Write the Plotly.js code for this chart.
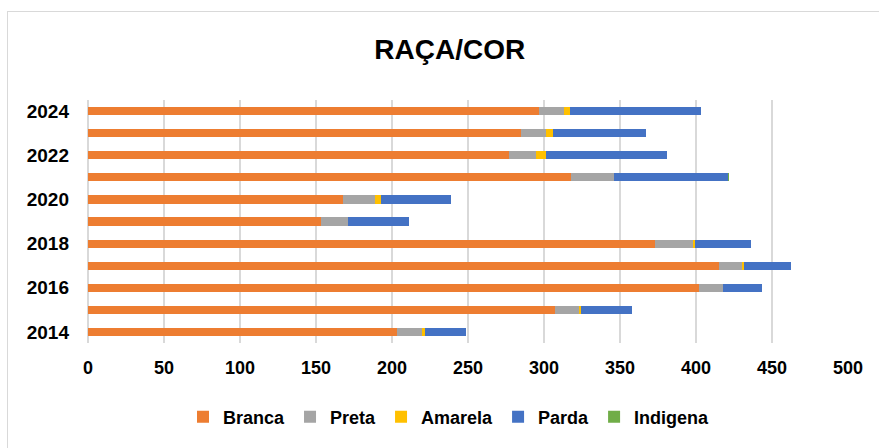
<!DOCTYPE html>
<html>
<head>
<meta charset="utf-8">
<script src="https://cdn.plot.ly/plotly-3.0.1.min.js"></script>
<style>
  html, body { margin: 0; padding: 0; background: #fff; overflow: hidden; }
  #frame { position: absolute; left: 7px; top: 11px; width: 900px; height: 460px; border: 1px solid #d9d9d9; box-sizing: border-box; pointer-events: none; }
  #chart { position: absolute; left: 0; top: 0; width: 879px; height: 448px; }
</style>
</head>
<body>
<div id="chart"></div>
<div id="frame"></div>
<script>
const years = [2014, 2015, 2016, 2017, 2018, 2019, 2020, 2021, 2022, 2023, 2024];
const branca   = [203, 307, 402, 415, 373, 153, 168, 318, 277, 285, 297];
const preta    = [17, 16, 16, 15, 25, 18, 21, 28, 18, 16, 16];
const amarela  = [2, 1.5, 0, 1.5, 1.5, 0, 4, 0, 6, 5, 4];
const parda    = [27, 33.5, 25.5, 31, 37, 40, 46, 75, 80, 61, 86];
const indigena = [0, 0, 0, 0, 0, 0, 0, 1, 0, 0, 0];
const yTickVals = [2014, 2016, 2018, 2020, 2022, 2024];
const xTickVals = [0, 50, 100, 150, 200, 250, 300, 350, 400, 450, 500];

const seriesNames = ['Branca', 'Preta', 'Amarela', 'Parda', 'Indigena'];
const seriesData = [branca, preta, amarela, parda, indigena];
const seriesColors = ['#ED7D31', '#A5A5A5', '#FFC000', '#4472C4', '#70AD47'];

const traces = seriesNames.map((name, i) => ({
  type: 'bar',
  orientation: 'h',
  name: '<b>' + name + '</b>',
  y: years,
  x: seriesData[i],
  marker: { color: seriesColors[i], line: { width: 0 } },
  hoverinfo: 'x+name'
}));

const font = 'Liberation Sans, Arial, sans-serif';
const layout = {
  width: 879,
  height: 448,
  margin: { l: 88, r: 31, t: 100, b: 105, pad: 0 },
  paper_bgcolor: '#ffffff',
  plot_bgcolor: '#ffffff',
  barmode: 'stack',
  bargap: 0.63,
  font: { family: font, size: 18, color: '#000000' },
  title: {
    text: '<b>RAÇA/COR</b>',
    font: { family: font, size: 28, color: '#000000' },
    x: 0.476, xref: 'paper', xanchor: 'center',
    y: 0.89, yref: 'container', yanchor: 'middle'
  },
  xaxis: {
    range: [0, 500],
    tickvals: xTickVals,
    ticktext: xTickVals.map(v => '<b>' + v + '</b>'),
    showgrid: true,
    gridcolor: '#d9d9d9',
    gridwidth: 1.5,
    zeroline: true,
    zerolinecolor: '#d9d9d9',
    zerolinewidth: 1.5,
    showline: false,
    ticks: '',
    ticklabelstandoff: 12,
    tickfont: { family: font, size: 18, color: '#000' },
    fixedrange: true
  },
  yaxis: {
    range: [2013.5, 2024.5],
    tickvals: yTickVals,
    ticktext: yTickVals.map(v => '<b>' + v + '</b>'),
    showgrid: false,
    zeroline: false,
    showline: false,
    ticks: '',
    ticklabelstandoff: 18,
    tickfont: { family: font, size: 19, color: '#000' },
    fixedrange: true
  },
  showlegend: true,
  legend: {
    orientation: 'h',
    x: 0.475, xanchor: 'center',
    y: -0.305, yanchor: 'middle',
    font: { family: font, size: 18, color: '#000' },
    traceorder: 'normal',
    itemwidth: 30,
    bgcolor: 'rgba(0,0,0,0)'
  }
};

Plotly.newPlot('chart', traces, layout, { displayModeBar: false, staticPlot: true });
</script>
</body>
</html>
